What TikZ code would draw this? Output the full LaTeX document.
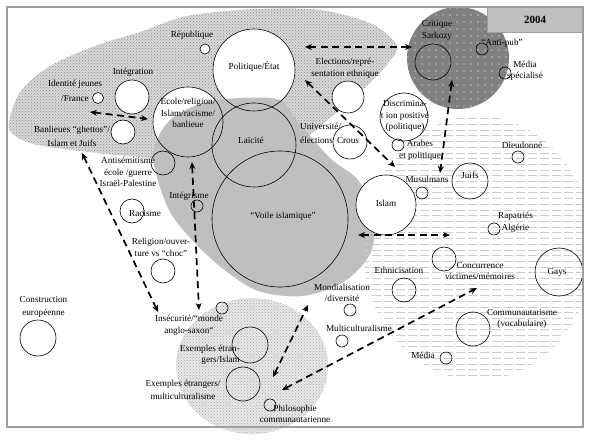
\documentclass[tikz,border=0pt]{standalone}
\usepackage{fontspec}
\setmainfont{Liberation Serif}
\usetikzlibrary{arrows.meta,patterns,backgrounds}

\begin{document}
\begin{tikzpicture}[x=1pt,y=-1pt,
  topic/.style={circle, draw, line width=0.6pt, inner sep=0pt, minimum size=#1pt},
  lbl/.style={font=\fontsize{9.2}{11.5}\selectfont, inner sep=0pt, align=center},
  link/.style={{Stealth[length=7pt,width=6pt]}-{Stealth[length=7pt,width=6pt]}, line width=1.7pt, dash pattern=on 7pt off 4.5pt}]

\useasboundingbox (0,0) rectangle (593,443);

% circles
\node[topic=11] (identite-c) at (98,98) {};
\node[topic=34] (integration-c) at (132,97) {};
\node[topic=24] (banlieues-c) at (123,132) {};
\node[topic=70] (ecole) at (188,122) {};
\node[topic=82] (pol) at (254,70) {};
\node[topic=10] (republique-c) at (205,49) {};
\node[topic=84] (lai) at (254,145) {};
\node[topic=136] (voile) at (280,219) {};
\node[topic=32] (elections-c) at (348,97) {};
\node[topic=34] (crous) at (350,142) {};
\node[topic=48] (discrim) at (404,117) {};
\node[topic=12] (arabes-c) at (398,145) {};
\node[topic=36] (sarkozy-c) at (433,62) {};
\node[topic=12] (antipub-c) at (482,49) {};
\node[topic=12] (mediaspe-c) at (505,73) {};
\node[topic=12] (musulmans-c) at (422,193) {};
\node[topic=36] (juifs) at (470,181) {};
\node[topic=12] (dieudonne-c) at (518,157) {};
\node[topic=60] (islam) at (386,205) {};
\node[topic=12] (rapatries-c) at (494,229) {};
\node[topic=24] (concurrence-c) at (444,259) {};
\node[topic=48] (gays) at (559,272) {};
\node[topic=24] (ethnicisation-c) at (404,290) {};
\node[topic=34] (communautarisme-c) at (473,329) {};
\node[topic=12] (media-c) at (446,358) {};
\node[topic=12] (mondialisation-c) at (350,310) {};
\node[topic=12] (multicult-c) at (342,341) {};
\node[topic=12] (insecurite-c) at (222,308) {};
\node[topic=36] (exislam-c) at (250,345) {};
\node[topic=34] (exmulti-c) at (243,384) {};
\node[topic=12] (philo-c) at (270,405) {};
\node[topic=24] (antisem-c) at (163,163) {};
\node[topic=24] (racisme-c) at (132,211) {};
\node[topic=12] (integrisme-c) at (197,206) {};
\node[topic=24] (religion-c) at (163,271) {};
\node[topic=36] (construction-c) at (38,338) {};

% labels
\node[lbl] (identite) at (75,91) {Identité jeunes\\[4pt]/France};
\node[lbl] (integration) at (133,72) {Intégration};
\node[lbl] (banlieues) at (72,136.5) {Banlieues “ghettos”/\\[3pt]Islam et Juifs};
\node[lbl] (ecole-t) at (188,113) {Ecole/religion/\\Islam/racisme/\\banlieue};
\node[lbl] (republique) at (192,35) {République};
\node[lbl] (pol-t) at (254,67) {Politique/État};
\node[lbl] (lai-t) at (251,140) {Laïcité};
\node[lbl] (voile-t) at (283,216) {“Voile islamique”};
\node[lbl] (elections) at (345,68.5) {Elections/repré-\\sentation ethnique};
\node[lbl, anchor=west, align=left] (universite) at (300,133.5) {Université/\\[3pt]élections};
\node[lbl] (crous-t) at (348,141) {Crous};
\node[lbl] (discrim-t) at (405,116) {Discrimina-\\t ion positive\\(politique)};
\node[lbl] (arabes) at (420,150.5) {Arabes\\et politique};
\node[lbl] (sarkozy) at (437,30.5) {Critique\\Sarkozy};
\node[lbl] (antipub) at (502,43) {“Anti-pub”};
\node[lbl] (mediaspe) at (525,71) {Média\\spécialisé};
\node[lbl] (musulmans) at (427,179) {Musulmans};
\node[lbl] (juifs-t) at (470,175) {Juifs};
\node[lbl] (dieudonne) at (522,145) {Dieudonné};
\node[lbl] (islam-t) at (386,203) {Islam};
\node[lbl] (rapatries) at (515.5,222.5) {Rapatriés\\Algérie};
\node[lbl] (concurrence) at (480,271) {Concurrence\\victimes/mémoires};
\node[lbl] (gays-t) at (557,272) {Gays};
\node[lbl] (ethnicisation) at (399,270) {Ethnicisation};
\node[lbl] (communautarisme) at (522,319) {Communautarisme\\(vocabulaire)};
\node[lbl] (media) at (423,355) {Média};
\node[lbl] (mondialisation) at (342,293) {Mondialisation\\/diversité};
\node[lbl] (multicult) at (359,328) {Multiculturalisme};
\node[lbl] (insecurite) at (189,325.5) {Insécurité/“monde\\anglo-saxon“};
\node[lbl, anchor=east, align=right] (exislam) at (240,355) {Exemples étran-\\gers/Islam};
\node[lbl] (exmulti) at (183,390) {Exemples étrangers/\\[2pt]multiculturalisme};
\node[lbl] (philo) at (295,414) {Philosophie\\communautarienne};
\node[lbl] (antisem) at (128,172) {Antisémitisme\\école /guerre\\Israël-Palestine};
\node[lbl] (racisme) at (145,213) {Racisme};
\node[lbl] (integrisme) at (189,196) {Intégrisme};
\node[lbl] (religion) at (161,247.5) {Religion/ouver-\\ture vs “choc”};
\node[lbl] (construction) at (43.5,306.5) {Construction\\[1.5pt]européenne};

% year box
\node[draw=black!38, fill=black!25, line width=0.8pt, minimum width=96pt, minimum height=25pt, inner sep=0pt, font=\fontsize{11}{12}\selectfont\bfseries] (year) at (535,19.5) {2004};

% arrow ends
\coordinate (banl-e) at (90,112);
\coordinate (ecole-w) at (148,119);
\coordinate (pol-e) at (305,47);
\coordinate (sark-w) at (412,47);
\coordinate (pol-se) at (305,80);
\coordinate (musul-nw) at (395,167);
\coordinate (sark-s) at (452,80);
\coordinate (musul-ne) at (440,173);
\coordinate (voile-e) at (358,235);
\coordinate (islam-e) at (450,235);
\coordinate (exmulti-e) at (282,390);
\coordinate (concur-sw) at (477,288);
\coordinate (exislam-e) at (273,377);
\coordinate (mondial-sw) at (308,305);
\coordinate (banl-s) at (82,153);
\coordinate (insec-nw) at (158,312);
\coordinate (ecole-s) at (192,162);
\coordinate (insec-n) at (199,310);

\draw[link] (banl-e) -- (ecole-w);
\draw[link] (pol-e) -- (sark-w);
\draw[link] (pol-se) -- (musul-nw);
\draw[link] (sark-s) -- (musul-ne);
\draw[link] (voile-e) -- (islam-e);
\draw[link] (exmulti-e) -- (concur-sw);
\draw[link] (exislam-e) -- (mondial-sw);
\draw[link] (banl-s) -- (insec-nw);
\draw[link] (ecole-s) -- (insec-n);

% frame
\draw[black!38, line width=1.2pt] (7,7) rectangle (583,427);

\begin{scope}[on background layer]
  % hatched zone
  \path[fill=black!15, postaction={pattern=crosshatch dots, pattern color=black!45}]
    plot[smooth cycle] coordinates {(9,128) (20,92) (50,66) (95,46) (140,32) (187,16) (255,9) (320,10) (372,24) (397,46) (386,66) (360,92) (330,118) (300,140) (230,158) (153,158) (80,151) (30,143)};
  \foreach \c/\r in {pol/41pt, integration-c/17pt, identite-c/5.5pt, banlieues-c/12pt, republique-c/5pt, ecole/35pt, elections-c/16pt}
    \fill[white] (\c) circle [radius=\r];
  % gray zone
  \fill[black!25] plot[smooth cycle] coordinates {(153,156) (168,122) (200,104) (240,98) (280,100) (298,122) (330,158) (358,180) (374,212) (371,252) (345,281) (303,296) (258,291) (222,268) (192,240) (168,208)};
  % dashed zone
  \begin{scope}
    \clip (7,7) rectangle (583,427);
    \clip (478,248) ellipse [x radius=115pt, y radius=132pt];
    \foreach \y in {113,118.7,...,382}
      \draw[black!20, line width=0.6pt, dash pattern=on 9pt off 3pt] (360,\y) -- (590,\y);
  \end{scope}
  \foreach \c/\r in {islam/30pt, discrim/24pt}
    \fill[white] (\c) circle [radius=\r];
  % dark zone
  \fill[black!50] (458,58) circle [radius=51pt];
  \begin{scope}
    \clip (458,58) circle [radius=51pt];
    \foreach \x in {408,415,...,510}
      \foreach \y in {8,15,...,110}
        \fill[white] (\x,\y) circle [radius=0.7pt];
  \end{scope}
  % dotted zone
  \path[fill=black!9, postaction={pattern=crosshatch dots, pattern color=black!35}]
    (252,366) ellipse [x radius=76pt, y radius=68pt];
\end{scope}

\end{tikzpicture}
\end{document}
